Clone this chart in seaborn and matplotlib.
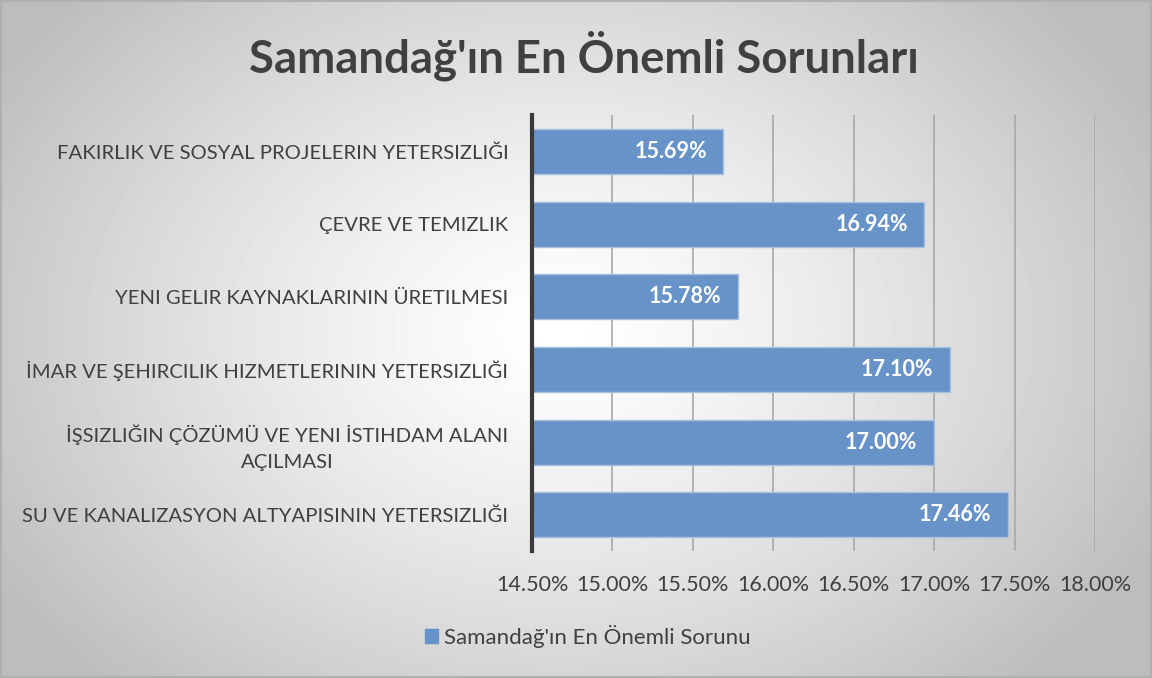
import numpy as np
import pandas as pd
import matplotlib.pyplot as plt
import seaborn as sns

# Data
categories = [
    "FAKIRLIK VE SOSYAL PROJELERIN YETERSIZLIĞI",
    "ÇEVRE VE TEMIZLIK",
    "YENI GELIR KAYNAKLARININ ÜRETILMESI",
    "İMAR VE ŞEHIRCILIK HIZMETLERININ YETERSIZLIĞI",
    "İŞSIZLIĞIN ÇÖZÜMÜ VE YENI İSTIHDAM ALANI\nAÇILMASI",
    "SU VE KANALIZASYON ALTYAPISININ YETERSIZLIĞI",
]
values = [15.69, 16.94, 15.78, 17.10, 17.00, 17.46]
ticks = [14.5, 15.0, 15.5, 16.0, 16.5, 17.0, 17.5, 18.0]
series_name = "Samandağ'ın En Önemli Sorunu"
title = "Samandağ'ın En Önemli Sorunları"

df = pd.DataFrame({"kategori": categories, "deger": values})

sns.set_style("white")
plt.rcParams["font.family"] = ["Lato", "DejaVu Sans"]

bar_color = "#6793c8"
text_color = "#404040"

fig = plt.figure(figsize=(11.52, 6.78), dpi=100)

# radial gradient background
bg = fig.add_axes([0, 0, 1, 1], zorder=-10)
yy, xx = np.mgrid[0:678, 0:1152]
r = np.sqrt(((xx - 560) / 700.0) ** 2 + ((yy - 330) / 520.0) ** 2)
shade = np.clip(1.0 - 0.28 * r ** 1.3, 0.74, 1.0)
bg.imshow(shade, cmap="gray", vmin=0, vmax=1, aspect="auto", extent=[0, 1, 0, 1])
bg.set_xlim(0, 1)
bg.set_ylim(0, 1)
bg.axis("off")
bg.add_patch(plt.Rectangle((0.001, 0.001), 0.998, 0.997, fill=False,
                           edgecolor="#b0b0b0", linewidth=1.5))

ax = fig.add_axes([0.4618, 0.187, 0.4887, 0.643])
ax.patch.set_alpha(0)
sns.barplot(data=df, x="deger", y="kategori", orient="h", color=bar_color,
            width=0.62, saturation=1, edgecolor="#a9c1e0", linewidth=1,
            ax=ax, zorder=3)

ax.set_xlim(14.5, 18.0)
ax.set_xticks(ticks)
ax.set_xticklabels([f"{t:.2f}%" for t in ticks], fontsize=15.5, color=text_color)
ax.tick_params(axis="x", length=0, pad=17)
ax.tick_params(axis="y", length=0, pad=17, labelsize=14.6, labelcolor=text_color)
ax.set_xlabel("")
ax.set_ylabel("")
for lbl in ax.get_yticklabels():
    lbl.set_multialignment("center")
    lbl.set_linespacing(1.6)

ax.grid(axis="x", color="#a8a8a8", linewidth=1.2, zorder=0)
ax.set_axisbelow(True)
for s in ["top", "right", "bottom"]:
    ax.spines[s].set_visible(False)
ax.spines["left"].set_color("#3a3a3a")
ax.spines["left"].set_linewidth(3)
ax.spines["left"].set_zorder(5)

for i, v in enumerate(values):
    ax.annotate(f"{v:.2f}%", xy=(v, i), xytext=(-12, 0), textcoords="offset points",
                ha="right", va="center", color="white", fontsize=15.5,
                fontweight="bold", zorder=6)

fig.text(0.507, 0.918, title, ha="center", va="center", fontsize=32.8,
         fontweight="bold", color=text_color)

handle = plt.Rectangle((0, 0), 1, 1, color=bar_color)
fig.legend([handle], [series_name], loc="center", bbox_to_anchor=(0.51, 0.061),
           frameon=False, fontsize=16, handlelength=0.6, handleheight=0.6,
           handletextpad=0.25, labelcolor=text_color)

fig.savefig("out.png", dpi=100)
